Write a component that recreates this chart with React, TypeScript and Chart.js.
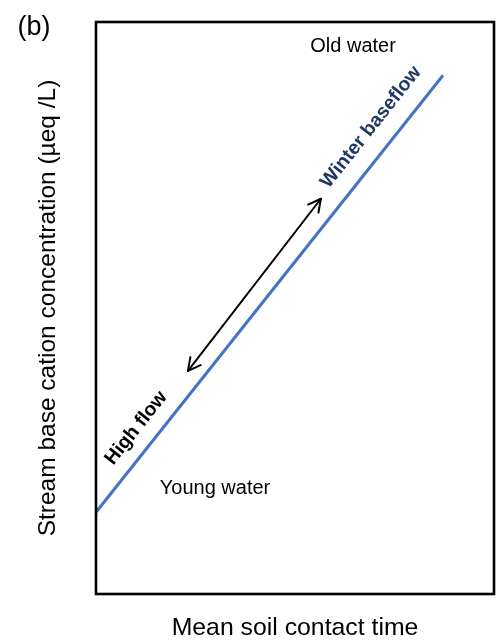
import { useEffect, useRef } from "react";
import { Chart, registerables } from "chart.js";

Chart.register(...registerables);

// Conceptual relation: stream base cation concentration vs. mean soil contact time
const contactTime = [0, 87.2];
const baseCation = [14.3, 90.7];

// Seasonal shift between high flow and winter baseflow (double-headed arrow)
const shiftTime = [23.1, 56.5];
const shiftCation = [39.0, 69.1];

// Text notes, anchored in data units
const noteText = ["(b)", "Old water", "Young water", "High flow", "Winter baseflow"];
const noteTime = [-15.6, 64.6, 29.9, 10.1, 69.1];
const noteCation = [99.1, 95.8, 18.5, 29.0, 81.6];

const FONT = '"Liberation Sans", Arial, Helvetica, sans-serif';

type NoteStyle = { size: number; bold: boolean; color: string; alongLine: boolean };
const noteStyles: NoteStyle[] = [
  { size: 27, bold: false, color: "#000000", alongLine: false },
  { size: 20, bold: false, color: "#000000", alongLine: false },
  { size: 20, bold: false, color: "#000000", alongLine: false },
  { size: 19.5, bold: true, color: "#000000", alongLine: true },
  { size: 19.5, bold: true, color: "#1F3864", alongLine: true },
];

const framePlugin = {
  id: "frameAndNotes",
  afterDatasetsDraw(chart: Chart) {
    const { ctx, chartArea, scales } = chart;
    const xs = scales.x;
    const ys = scales.y;
    ctx.save();

    // plot frame
    ctx.strokeStyle = "#000000";
    ctx.lineWidth = 2.6;
    ctx.strokeRect(
      chartArea.left,
      chartArea.top,
      chartArea.right - chartArea.left,
      chartArea.bottom - chartArea.top
    );

    // double-headed arrow
    const ax0 = xs.getPixelForValue(shiftTime[0]);
    const ay0 = ys.getPixelForValue(shiftCation[0]);
    const ax1 = xs.getPixelForValue(shiftTime[1]);
    const ay1 = ys.getPixelForValue(shiftCation[1]);
    ctx.lineWidth = 2;
    ctx.lineCap = "round";
    ctx.lineJoin = "round";
    ctx.beginPath();
    ctx.moveTo(ax0, ay0);
    ctx.lineTo(ax1, ay1);
    ctx.stroke();
    const head = (tx: number, ty: number, fx: number, fy: number) => {
      const ang = Math.atan2(ty - fy, tx - fx);
      const len = 14;
      const spread = Math.PI / 6.5;
      ctx.beginPath();
      ctx.moveTo(tx - len * Math.cos(ang - spread), ty - len * Math.sin(ang - spread));
      ctx.lineTo(tx, ty);
      ctx.lineTo(tx - len * Math.cos(ang + spread), ty - len * Math.sin(ang + spread));
      ctx.stroke();
    };
    head(ax0, ay0, ax1, ay1);
    head(ax1, ay1, ax0, ay0);

    // slope of the relation line in screen space, for rotated labels
    const lx0 = xs.getPixelForValue(contactTime[0]);
    const ly0 = ys.getPixelForValue(baseCation[0]);
    const lx1 = xs.getPixelForValue(contactTime[1]);
    const ly1 = ys.getPixelForValue(baseCation[1]);
    const lineAngle = Math.atan2(ly1 - ly0, lx1 - lx0);

    noteText.forEach((txt, i) => {
      const st = noteStyles[i];
      const px = xs.getPixelForValue(noteTime[i]);
      const py = ys.getPixelForValue(noteCation[i]);
      ctx.save();
      ctx.translate(px, py);
      if (st.alongLine) ctx.rotate(lineAngle);
      ctx.font = `${st.bold ? "bold " : ""}${st.size}px ${FONT}`;
      ctx.fillStyle = st.color;
      ctx.textAlign = "center";
      ctx.textBaseline = "middle";
      ctx.fillText(txt, 0, 0);
      ctx.restore();
    });

    ctx.restore();
  },
};

export default function App() {
  const canvasRef = useRef<HTMLCanvasElement | null>(null);

  useEffect(() => {
    const canvas = canvasRef.current;
    if (!canvas) return;
    const chart = new Chart(canvas, {
      type: "line",
      data: {
        datasets: [
          {
            label: "Base cation concentration",
            data: contactTime.map((t, i) => ({ x: t, y: baseCation[i] })),
            borderColor: "#4472C4",
            borderWidth: 3,
            pointRadius: 0,
            fill: false,
            tension: 0,
          },
        ],
      },
      options: {
        responsive: false,
        animation: false,
        layout: { padding: { top: 22, right: 4, bottom: 0, left: 0 } },
        plugins: {
          legend: { display: false },
          tooltip: { enabled: false },
        },
        scales: {
          x: {
            type: "linear",
            min: 0,
            max: 100,
            grid: { display: false, drawTicks: false },
            ticks: { display: false },
            border: { display: false },
            title: {
              display: true,
              text: "Mean soil contact time",
              color: "#000000",
              font: { size: 24.8, family: FONT, lineHeight: 1 },
              padding: { top: 21.7, bottom: 0.5 },
            },
          },
          y: {
            type: "linear",
            min: 0,
            max: 100,
            grid: { display: false, drawTicks: false },
            ticks: { display: false },
            border: { display: false },
            title: {
              display: true,
              text: "Stream base cation concentration (µeq /L)",
              color: "#000000",
              font: { size: 24.5, family: FONT, lineHeight: 1 },
              padding: { top: 35.75, bottom: 35.75 },
            },
          },
        },
      },
      plugins: [framePlugin],
    });
    return () => chart.destroy();
  }, []);

  return (
    <div style={{ position: "fixed", left: 0, top: 0, width: 498, height: 641, background: "#ffffff" }}>
      <canvas ref={canvasRef} width={498} height={641} style={{ display: "block" }} />
    </div>
  );
}
